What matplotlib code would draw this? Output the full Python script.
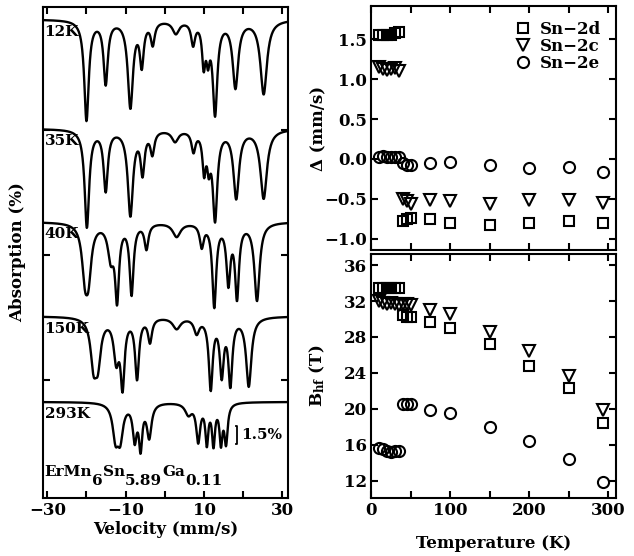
import numpy as np
import matplotlib
matplotlib.use("Agg")
import matplotlib.pyplot as plt

plt.rcParams['font.family'] = ['DejaVu Serif']
plt.rcParams['font.weight'] = 'bold'
plt.rcParams['axes.labelweight'] = 'bold'
plt.rcParams['font.size'] = 12
plt.rcParams['mathtext.fontset'] = 'custom'
plt.rcParams['mathtext.rm'] = 'DejaVu Serif:bold'
plt.rcParams['mathtext.it'] = 'DejaVu Serif:bold'
plt.rcParams['mathtext.default'] = 'rm'
plt.rcParams['axes.linewidth'] = 1.5

# --- Mossbauer spectra: resolved lines ---
# (position mm/s, depth %, half width mm/s), one list per spectrum
spec_labels = ["12K", "35K", "40K", "150K", "293K"]
spec_base = [28.85, 20.1, 12.65, 5.1, -1.75]

pos_12K = [-20.0, -15.1, -8.8, -5.9, -3.1, 2.8, 7.2, 9.9, 11.0, 12.8, 18.0, 25.2]
dep_12K = [8.0, 5.0, 6.9, 3.4, 1.8, 1.0, 1.8, 3.2, 2.4, 7.3, 5.3, 5.9]
wid_12K = [0.7, 0.65, 0.8, 0.6, 0.6, 1.0, 0.6, 0.5, 0.5, 0.7, 0.85, 1.0]

pos_35K = [-19.9, -15.1, -8.8, -5.7, -3.2, 2.6, 7.3, 10.0, 11.2, 12.8, 18.2, 25.2]
dep_35K = [7.8, 4.8, 6.8, 3.3, 1.8, 0.9, 1.6, 3.0, 2.3, 7.0, 5.4, 5.5]
wid_35K = [0.7, 0.65, 0.8, 0.6, 0.6, 1.0, 0.6, 0.5, 0.5, 0.7, 0.85, 1.0]

pos_40K = [-20.4, -19.5, -13.8, -12.2, -8.5, -4.7, 3.0, 9.4, 12.6, 16.2, 18.4, 23.5]
dep_40K = [3.6, 3.6, 2.6, 5.8, 5.6, 2.0, 1.1, 1.8, 6.6, 4.6, 5.8, 6.2]
wid_40K = [0.9, 0.9, 0.9, 0.6, 0.6, 0.6, 1.2, 0.6, 0.6, 0.6, 0.6, 0.8]

pos_150K = [-18.2, -17.1, -12.4, -10.8, -7.1, -3.8, 3.0, 8.1, 11.7, 14.5, 16.7, 21.4]
dep_150K = [3.4, 3.2, 3.2, 5.2, 4.8, 1.9, 0.9, 1.2, 5.6, 4.4, 5.2, 5.5]
wid_150K = [0.9, 0.9, 0.8, 0.6, 0.6, 0.6, 1.2, 0.8, 0.6, 0.6, 0.6, 0.8]

pos_293K = [-12.6, -11.4, -7.7, -6.2, -4.0, 6.0, 8.5, 10.7, 12.4, 14.3, 15.6]
dep_293K = [2.6, 2.6, 2.8, 3.4, 2.7, 0.9, 3.0, 3.1, 3.2, 3.0, 3.1]
wid_293K = [0.85, 0.85, 0.6, 0.5, 0.7, 1.0, 0.6, 0.45, 0.45, 0.45, 0.5]

spec_pos = [pos_12K, pos_35K, pos_40K, pos_150K, pos_293K]
spec_dep = [dep_12K, dep_35K, dep_40K, dep_150K, dep_293K]
spec_wid = [wid_12K, wid_35K, wid_40K, wid_150K, wid_293K]

# --- hyperfine parameters vs temperature ---
temp = [10, 15, 20, 25, 30, 35, 40, 45, 50, 75, 100, 150, 200, 250, 293]

qs_2d = [1.55, 1.55, 1.56, 1.56, 1.58, 1.59, -0.775, -0.75, -0.74, -0.75, -0.80, -0.825, -0.81, -0.775, -0.80]
qs_2c = [1.15, 1.13, 1.12, 1.13, 1.14, 1.10, -0.50, -0.53, -0.56, -0.51, -0.53, -0.56, -0.52, -0.51, -0.55]
qs_2e = [0.02, 0.04, 0.03, 0.02, 0.02, 0.03, -0.05, -0.08, -0.08, -0.05, -0.04, -0.08, -0.12, -0.10, -0.16]

bhf_2d = [33.5, 33.5, 33.5, 33.5, 33.5, 33.5, 30.4, 30.2, 30.2, 29.7, 29.0, 27.2, 24.8, 22.3, 18.45]
bhf_2c = [32.0, 31.8, 31.7, 31.8, 31.7, 31.6, 31.7, 31.7, 31.55, 31.0, 30.55, 28.6, 26.4, 23.6, 19.9]
bhf_2e = [15.6, 15.5, 15.3, 15.2, 15.3, 15.3, 20.5, 20.5, 20.5, 19.9, 19.5, 18.0, 16.4, 14.4, 11.9]

# compound name, pieces with subscript flag
formula = [("ErMn", False), ("6", True), ("Sn", False), ("5.89", True), ("Ga", False), ("0.11", True)]

fig = plt.figure(figsize=(6.34, 5.56), dpi=100)
ax_s = fig.add_axes([0.0678, 0.1043, 0.3864, 0.8831])
ax_q = fig.add_axes([0.5852, 0.5504, 0.3864, 0.4388])
ax_b = fig.add_axes([0.5852, 0.1043, 0.3864, 0.4388])

# spectra
v = np.linspace(-31.1, 31.4, 700)
for lab, base, ps, ds, ws in zip(spec_labels, spec_base, spec_pos, spec_dep, spec_wid):
    y = np.full_like(v, base)
    for p, d, w in zip(ps, ds, ws):
        y -= d / (1 + ((v - p) / w) ** 2)
    ax_s.plot(v, y, color="black", lw=1.7, solid_joinstyle="round")
    ax_s.text(-30.7, base - 1.0, lab, fontsize=11, fontweight="bold", va="center", ha="left")

ax_s.plot([18.1, 18.45, 18.45, 18.1], [-3.65, -3.65, -5.15, -5.15], color="black", lw=1.3)
ax_s.text(19.4, -4.4, "1.5%", fontsize=11, va="center", ha="left")

prev = ax_s.text(-30.7, -7.9, formula[0][0], fontsize=11, va="bottom", ha="left")
was_sub = False
for txt, sub in formula[1:]:
    dy = -7 if sub else (7 if was_sub else 0)
    prev = ax_s.annotate(txt, xy=(1, 0), xycoords=prev, xytext=(0, dy),
                         textcoords="offset points", fontsize=11, va="bottom", ha="left")
    was_sub = sub

ax_s.set_xlim(-31.1, 31.4)
ax_s.set_ylim(-9.44, 29.84)
ax_s.set_xticks([-30, -20, -10, 0, 10, 20, 30])
ax_s.set_xticklabels(["\u221230", "", "\u221210", "", "10", "", "30"])
ax_s.set_yticks([0, 10, 20])
ax_s.set_yticklabels([])
ax_s.set_xlabel("Velocity (mm/s)")
ax_s.xaxis.set_label_coords(0.5, -0.047)
ax_s.set_ylabel("Absorption (%)")
ax_s.yaxis.set_label_coords(-0.07, 0.5)

# quadrupole splitting
mk = dict(mfc="none", mec="black", mew=1.5, ls="none")
ax_q.plot(temp, qs_2d, marker="s", ms=6.5, label="Sn\u22122d", **mk)
ax_q.plot(temp, qs_2c, marker="v", ms=8.5, label="Sn\u22122c", **mk)
ax_q.plot(temp, qs_2e, marker="o", ms=8, label="Sn\u22122e", **mk)
ax_q.set_xlim(0, 310)
ax_q.set_ylim(-1.143, 1.92)
ax_q.set_xticks(range(0, 301, 50))
ax_q.set_xticklabels([])
ax_q.set_yticks([-1.0, -0.5, 0.0, 0.5, 1.0, 1.5])
ax_q.set_yticklabels(["\u22121.0", "\u22120.5", "0.0", "0.5", "1.0", "1.5"])
ax_q.set_ylabel("\u0394 (mm/s)")
ax_q.yaxis.set_label_coords(-0.18, 0.5)
ax_q.legend(loc="upper right", frameon=False, handlelength=0.8, handletextpad=0.6,
            labelspacing=0.0, borderaxespad=0.6, borderpad=0.3, fontsize=12)

# hyperfine field
ax_b.plot(temp, bhf_2d, marker="s", ms=6.5, **mk)
ax_b.plot(temp, bhf_2c, marker="v", ms=8.5, **mk)
ax_b.plot(temp, bhf_2e, marker="o", ms=8, **mk)
ax_b.set_xlim(0, 310)
ax_b.set_ylim(10.07, 37.23)
ax_b.set_xticks(range(0, 301, 50))
ax_b.set_xticklabels(["0", "", "100", "", "200", "", "300"])
ax_b.set_yticks(range(12, 37, 4))
ax_b.set_ylabel("B$_{hf}$ (T)")
ax_b.yaxis.set_label_coords(-0.18, 0.5)
ax_b.set_xlabel("Temperature (K)")
ax_b.xaxis.set_label_coords(0.5, -0.15)

for ax in (ax_s, ax_q, ax_b):
    ax.tick_params(direction="in", top=True, right=True, length=5, width=1.5, pad=3)

fig.savefig("out.png", dpi=100)
